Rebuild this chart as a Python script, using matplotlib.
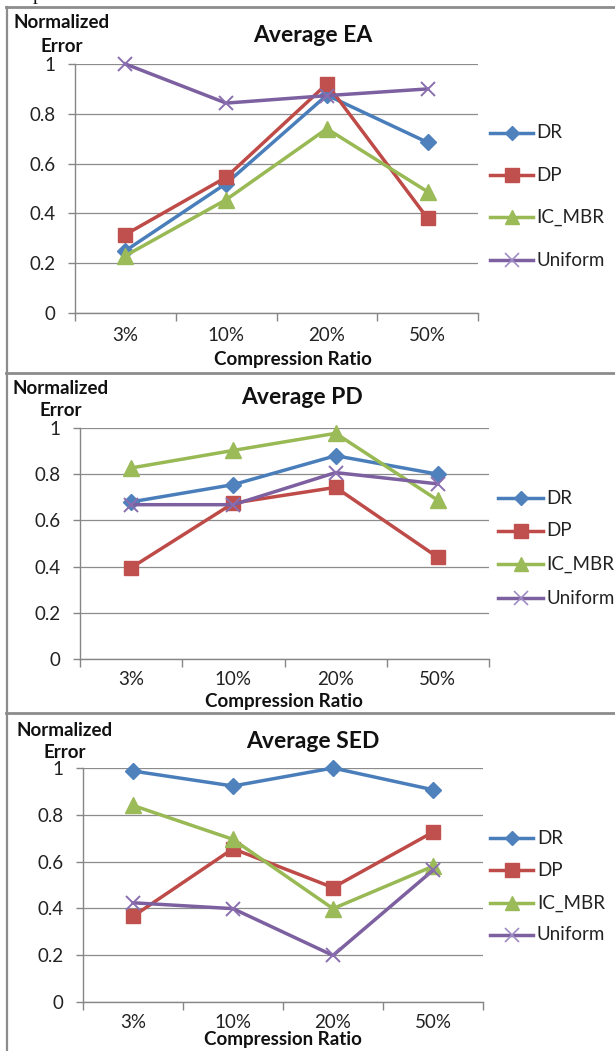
import matplotlib
matplotlib.use("Agg")
import matplotlib.pyplot as plt
from matplotlib.lines import Line2D

plt.rcParams['font.family'] = ['Lato', 'DejaVu Sans']

# ---------------- data ----------------
categories = ["3%", "10%", "20%", "50%"]
series_names = ["DR", "DP", "IC_MBR", "Uniform"]

ea_dr = [0.25, 0.52, 0.875, 0.685]
ea_dp = [0.315, 0.545, 0.92, 0.38]
ea_ic = [0.23, 0.455, 0.74, 0.487]
ea_uni = [1.0, 0.843, 0.873, 0.90]

pd_dr = [0.68, 0.755, 0.88, 0.80]
pd_dp = [0.395, 0.675, 0.743, 0.44]
pd_ic = [0.827, 0.903, 0.977, 0.687]
pd_uni = [0.668, 0.668, 0.807, 0.758]

sed_dr = [0.987, 0.923, 1.0, 0.907]
sed_dp = [0.366, 0.655, 0.489, 0.726]
sed_ic = [0.84, 0.695, 0.399, 0.58]
sed_uni = [0.424, 0.399, 0.199, 0.563]

titles = ["Average EA", "Average PD", "Average SED"]
ytick_vals = [0, 0.2, 0.4, 0.6, 0.8, 1.0]
ytick_labels = ["0", "0.2", "0.4", "0.6", "0.8", "1"]
ylabel_lines = ["Normalized", "Error"]
xlabel_text = "Compression Ratio"

# ---------------- styles ----------------
W, H = 615, 1051
colors = ["#4A7EBB", "#BE4B48", "#98B954", "#7D60A0"]
mfc = ["#4F81BD", "#C0504D", "#9BBB59", "#8064A2"]
markers = ["D", "s", "^", "x"]
msizes = [8, 10.5, 11, 10]
AXC = "#868686"

def fx(px):
    return px / W

def fy(py):
    return 1 - py / H

fig = plt.figure(figsize=(W / 100, H / 100), dpi=100)
fig.patch.set_facecolor("white")

panels = [
    dict(data=[ea_dr, ea_dp, ea_ic, ea_uni], box=(75, 478, 64, 313),
         title=(313, 36), ylab=(62, 23, 47), xlab=(293, 360), tpad=10,
         leg=(490, 533, 536, [133, 175, 217, 260])),
    dict(data=[pd_dr, pd_dp, pd_ic, pd_uni], box=(80, 489, 428, 659),
         title=(302, 398), ylab=(61, 389, 411), xlab=(284, 702), tpad=8.5,
         leg=(498, 543, 546, [498, 531, 564, 598])),
    dict(data=[sed_dr, sed_dp, sed_ic, sed_uni], box=(83, 483, 768, 1002),
         title=(313, 742), ylab=(65, 731, 753), xlab=(283, 1039), tpad=8.5,
         leg=(490, 533, 537, [838, 870, 903, 935])),
]

FS = 13.5
for p, title in zip(panels, titles):
    l, r, t, b = p["box"]
    ax = fig.add_axes([fx(l), fy(b), (r - l) / W, (b - t) / H])
    x = list(range(len(categories)))
    for i, vals in enumerate(p["data"]):
        if markers[i] == "x":
            ax.plot(x, vals, color=colors[i], lw=2.5, marker="x",
                    ms=msizes[i], mew=1.4, mec="#8A6FB0", zorder=3 + i,
                    clip_on=False)
        else:
            ax.plot(x, vals, color=colors[i], lw=2.5, marker=markers[i],
                    ms=msizes[i], mfc=mfc[i], mec=mfc[i], zorder=3 + i,
                    clip_on=False)
    ax.set_xlim(-0.5, len(categories) - 0.5)
    ax.set_ylim(0, 1)
    ax.set_yticks(ytick_vals)
    ax.set_yticklabels(ytick_labels, fontsize=FS)
    ax.set_xticks(x)
    ax.set_xticklabels(categories, fontsize=FS)
    ax.set_xticks([v - 0.5 for v in range(len(categories) + 1)], minor=True)
    ax.tick_params(axis="x", which="major", length=0, pad=p["tpad"], colors="#222222")
    ax.tick_params(axis="x", which="minor", length=6, width=1, color=AXC, direction="out")
    ax.tick_params(axis="y", which="major", length=5, width=1, color=AXC, pad=9,
                   labelcolor="#222222")
    for s in ["top", "right"]:
        ax.spines[s].set_visible(False)
    for s in ["left", "bottom"]:
        ax.spines[s].set_color(AXC)
        ax.spines[s].set_linewidth(1)
    ax.yaxis.grid(True, color="#8C8C8C", lw=0.9)
    ax.set_axisbelow(True)
    ax.set_facecolor("none")

    # title and axis labels
    fig.text(fx(p["title"][0]), fy(p["title"][1]), title, fontsize=16.5,
             fontweight="bold", ha="center", va="center", color="#111111")
    yx, y1, y2 = p["ylab"]
    fig.text(fx(yx), fy(y1), ylabel_lines[0], fontsize=FS, fontweight="bold",
             ha="center", va="center", color="#111111")
    fig.text(fx(yx), fy(y2), ylabel_lines[1], fontsize=FS, fontweight="bold",
             ha="center", va="center", color="#111111")
    fig.text(fx(p["xlab"][0]), fy(p["xlab"][1]), xlabel_text, fontsize=FS,
             fontweight="bold", ha="center", va="center", color="#111111")

    # legend
    x0, x1, tx, rows = p["leg"]
    for i, (name, ry) in enumerate(zip(series_names, rows)):
        xm = (x0 + x1) / 2
        kw = dict(color=colors[i], lw=2.5, transform=fig.transFigure,
                  marker=markers[i], markevery=[1])
        if markers[i] == "x":
            kw.update(ms=msizes[i], mew=1.2, mec="#A08CC4")
        else:
            kw.update(ms=msizes[i] * 0.9, mfc=mfc[i], mec=mfc[i])
        fig.add_artist(Line2D([fx(x0), fx(xm), fx(x1)], [fy(ry)] * 3, **kw))
        fig.text(fx(tx), fy(ry), name, fontsize=FS, ha="left", va="center",
                 color="#222222")

# panel frames
BC = "#8C8C8C"
fig.add_artist(Line2D([fx(6.5), fx(6.5)], [fy(7), fy(1051)], color=BC, lw=1.6,
                      transform=fig.transFigure))
for yy in [7, 373, 713]:
    fig.add_artist(Line2D([fx(6), fx(615)], [fy(yy), fy(yy)], color=BC, lw=2,
                          transform=fig.transFigure))

# fragment of caption text above the figure
fig.text(fx(33), fy(0), "p", fontsize=14, family="Liberation Serif",
         ha="left", va="baseline", color="#111111")

fig.savefig("out.png", dpi=100, facecolor="white")
